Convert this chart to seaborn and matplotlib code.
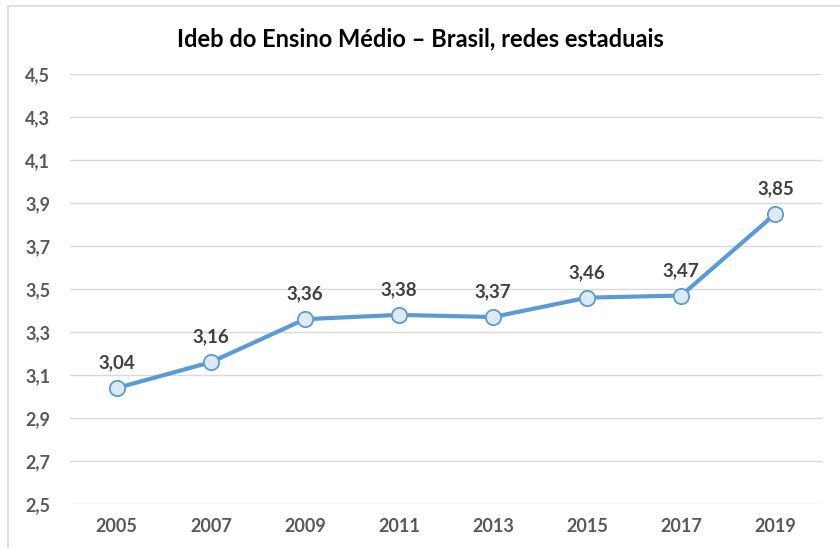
import pandas as pd
import matplotlib.pyplot as plt
import seaborn as sns
from matplotlib.patches import Rectangle

anos = ["2005", "2007", "2009", "2011", "2013", "2015", "2017", "2019"]
ideb = [3.04, 3.16, 3.36, 3.38, 3.37, 3.46, 3.47, 3.85]
y_ticks = [2.5, 2.7, 2.9, 3.1, 3.3, 3.5, 3.7, 3.9, 4.1, 4.3, 4.5]

df = pd.DataFrame({"ano": anos, "ideb": ideb})

sns.set_theme(style="white")
plt.rcParams['font.family'] = ['Lato', 'DejaVu Sans']

fig = plt.figure(figsize=(8.4, 5.48), dpi=100)
ax = fig.add_axes([0.083, 0.080, 0.896, 0.785])

# moldura clara do gráfico
fig.patches.append(Rectangle((8 / 840, -0.1), 1.2, 1 - 6 / 548 + 0.1, transform=fig.transFigure,
                             fill=False, edgecolor="#D9D9D9", linewidth=1.2))

blue = "#5B9BD5"
sns.lineplot(data=df, x="ano", y="ideb", ax=ax, color=blue, linewidth=3,
             marker="o", markersize=11, markerfacecolor="#DEEBF7",
             markeredgecolor=blue, markeredgewidth=1.3)

for i, v in enumerate(ideb):
    ax.annotate(f"{v:.2f}".replace(".", ","), (i, v), xytext=(0, 12),
                textcoords="offset points", ha="center", va="bottom",
                fontsize=13.5, fontweight="bold", color="#404040")

ax.set_ylim(2.5, 4.5)
ax.set_xlim(-0.5, len(anos) - 0.5)
ax.set_yticks(y_ticks)
ax.set_yticklabels([f"{t:.1f}".replace(".", ",") for t in y_ticks])
ax.yaxis.grid(True, color="#D9D9D9", linewidth=1)
ax.set_axisbelow(True)
for s in ax.spines.values():
    s.set_visible(False)
ax.tick_params(axis="both", length=0, labelsize=13, labelcolor="#595959")
ax.tick_params(axis="y", pad=14)
ax.tick_params(axis="x", pad=10)
for lbl in ax.get_xticklabels() + ax.get_yticklabels():
    lbl.set_fontweight("bold")
ax.set_xlabel("")
ax.set_ylabel("")

fig.text(0.5, 0.929, "Ideb do Ensino Médio – Brasil, redes estaduais",
         ha="center", va="center", fontsize=17, fontweight="bold", color="#000000")

fig.savefig("out.png", dpi=100)
